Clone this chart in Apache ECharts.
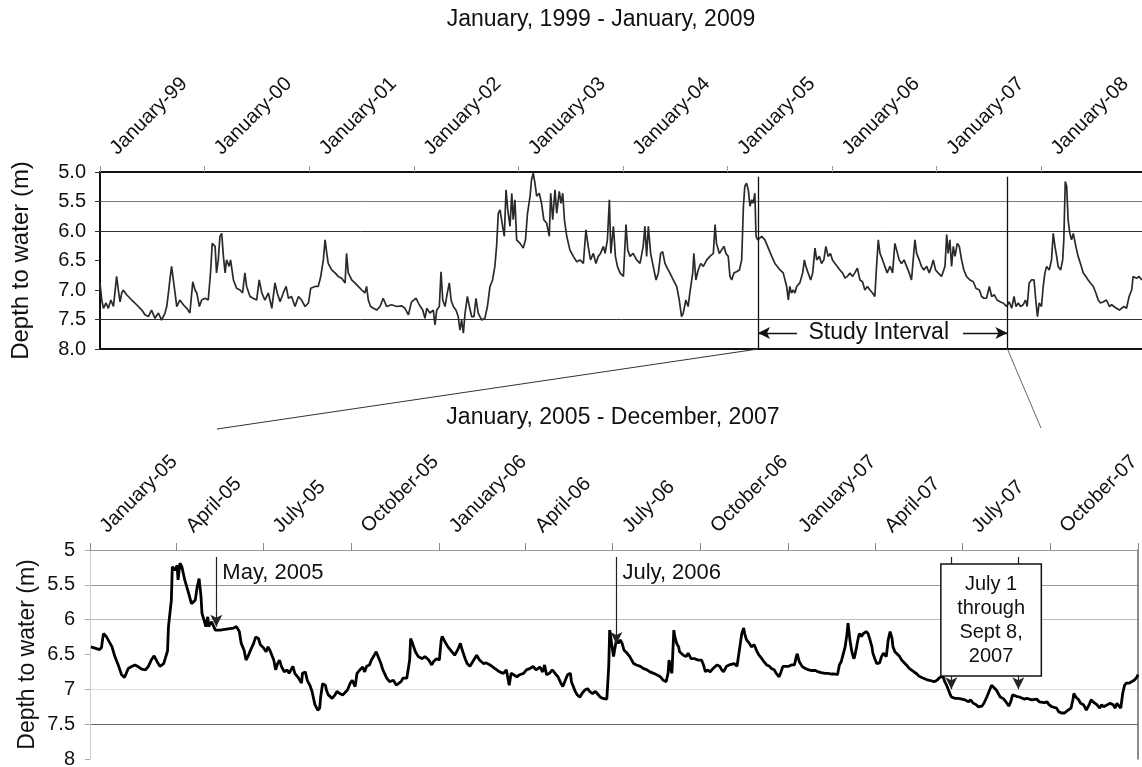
<!DOCTYPE html>
<html>
<head>
<meta charset="utf-8">
<title>Depth to water, 1999 - 2009</title>
<script src="https://cdn.jsdelivr.net/npm/echarts@6/dist/echarts.min.js"></script>
<style>
  html, body { margin: 0; padding: 0; background: #fff; }
  #chart { width: 1142px; height: 767px; }
</style>
</head>
<body>
<div id="chart"></div>
<script>
// ---- Ten-year record (days counted from overviewStart) ----
const overviewStart = '1999-01-01';
const overviewEnd = '2009-01-01';
const overviewDay = [0,6,12,21,29,38,47,52,58,64,70,76,81,93,111,128,146,157,169,180,192,204,215,227,233,239,244,250,256,262,268,279,291,303,314,324,332,338,347,355,367,378,386,392,402,407,413,419,425,431,437,442,451,456,466,477,489,498,506,512,524,535,547,556,565,576,588,600,611,619,629,640,650,658,669,681,693,704,716,728,736,751,762,771,780,786,792,797,809,821,832,844,856,861,867,879,890,902,914,925,931,937,945,955,966,
  978,989,1001,1018,1036,1054,1065,1077,1088,1104,1115,1127,1135,1141,1152,1164,1170,1176,1185,1191,1197,1205,1213,1220,1226,1234,1243,1251,1257,1263,1269,1275,1283,1290,1298,1306,1313,1321,1333,1344,1353,1362,1371,1379,1385,1391,1397,1406,1412,1418,1424,1432,1438,1443,1449,1455,1467,1478,1486,1493,1502,1507,1513,1519,1525,1534,1542,1550,1560,1569,1574,1581,1589,1595,1604,1610,1616,1622,1630,1641,1653,1665,1676,1688,1697,1705,1713,1723,1732,1740,1748,1758,1764,1772,1779,1784,1793,1800,1807,1816,1828,1837,1843,1851,1862,1874,1886,1897,1903,1909,1915,1923,1932,1942,1950,1958,1965,1973,1981,1990,2002,2014,2023,2031,2037,2046,2054,2060,2070,2074,2081,2089,2098,2107,2119,2130,2142,2148,2153,2163,2171,2179,2186,2194,2200,2206,2214,2223,2233,2241,2247,2252,2258,2264,2270,2276,2281,2287,2291,2297,2311,2322,2334,2346,2357,
  2375,2386,2398,2404,2409,2415,2421,2427,2433,2444,2454,2460,2465,2473,2482,2489,2497,2503,2512,2520,2528,2535,2543,2551,2558,2567,2575,2584,2593,2602,2610,2619,2628,2636,2645,2654,2663,2671,2680,2689,2698,2706,2712,2718,2724,2733,2741,2749,2759,2768,2776,2782,2791,2799,2808,2817,2826,2834,2840,2846,2852,2861,2869,2877,2887,2896,2904,2910,2918,2927,2939,2951,2957,2962,2968,2974,2980,2986,2994,3001,3009,3017,3026,3038,3050,3059,3071,3079,3087,3096,3106,3114,3123,3133,3143,3154,3166,3175,3184,3192,3199,3207,3215,3224,3232,3238,3245,3253,3262,3268,3274,3280,3288,3294,3300,3306,3315,3323,3329,3335,3341,3346,3355,3362,3366,3371,3376,3381,3387,3393,3399,3408,3416,3424,3434,3443,3451,3459,3469,3478,3486,3494,3504,3515,3525,3533,3541,3550,3560,3568,3576,3585,3594,3603,3608,3614,3620,3629,3638];
const overviewDepth = [6.88,7.17,7.31,7.22,7.31,7.17,7.28,7.05,6.77,7.00,7.20,7.05,7.00,7.08,7.17,7.25,7.34,7.42,7.45,7.34,7.48,7.39,7.51,7.39,7.28,7.05,6.83,6.60,6.63,7.05,7.28,7.17,7.25,7.31,7.39,6.86,7.00,7.05,7.28,7.17,7.14,7.17,6.71,6.21,6.26,6.71,6.49,6.09,6.04,6.43,6.71,6.49,6.60,6.49,6.83,6.97,7.00,7.05,6.71,6.94,7.11,7.14,7.17,6.83,7.05,7.17,7.05,7.31,6.88,7.05,7.20,7.05,6.94,7.14,7.11,7.28,7.11,7.17,7.28,7.22,6.97,6.94,6.94,6.77,6.49,6.15,6.38,6.55,6.66,6.71,6.77,6.80,6.88,6.38,6.71,6.83,6.88,6.94,7.00,7.05,6.94,7.17,7.28,7.31,7.34,
  7.28,7.14,7.28,7.25,7.28,7.27,7.31,7.42,7.20,7.14,7.25,7.34,7.48,7.31,7.39,7.34,7.59,7.34,7.28,6.69,7.17,7.28,7.05,6.88,7.17,7.28,7.34,7.45,7.68,7.51,7.73,7.39,7.11,7.28,7.45,7.45,7.14,7.39,7.51,7.48,7.28,6.94,6.83,6.60,6.26,5.70,5.64,5.92,6.09,5.30,5.64,5.92,5.36,5.81,5.47,6.15,6.21,6.29,6.15,5.70,5.41,5.13,5.02,5.19,5.41,5.36,5.53,5.81,5.87,6.09,5.36,5.81,5.30,5.70,5.33,5.53,5.36,5.81,6.09,6.32,6.43,6.52,6.49,6.55,5.98,6.26,6.49,6.38,6.55,6.43,6.38,6.26,6.38,6.15,5.47,6.38,5.92,6.43,6.60,6.71,6.77,5.89,6.32,6.43,6.38,6.49,6.55,6.26,5.92,6.43,5.92,6.38,6.60,6.83,6.71,6.38,6.35,6.55,6.63,6.71,6.83,6.94,7.17,7.45,7.39,7.17,7.28,7.05,6.71,6.38,6.83,6.66,6.55,6.60,6.49,6.43,6.38,5.89,6.21,6.38,6.32,6.26,6.38,6.43,6.77,6.83,6.71,6.69,6.66,6.49,5.58,5.24,5.19,5.30,5.58,5.47,5.53,5.36,6.09,6.15,6.09,6.15,6.29,6.43,6.55,
  6.66,6.71,6.94,7.17,6.94,7.05,7.00,7.05,6.94,6.88,6.71,6.49,6.60,6.71,6.83,6.71,6.29,6.49,6.43,6.55,6.49,6.26,6.43,6.38,6.49,6.55,6.60,6.66,6.71,6.80,6.77,6.71,6.77,6.71,6.63,6.83,6.86,7.00,6.94,7.00,7.05,7.11,6.60,6.15,6.38,6.49,6.60,6.71,6.60,6.71,6.21,6.32,6.49,6.55,6.49,6.60,6.71,6.83,6.49,6.15,6.38,6.49,6.60,6.66,6.60,6.71,6.60,6.49,6.66,6.71,6.77,6.60,6.06,6.38,6.15,6.60,6.26,6.43,6.21,6.26,6.49,6.66,6.77,6.83,6.86,6.97,7.00,7.11,7.14,7.14,6.94,7.11,7.08,7.17,7.20,7.22,7.28,7.20,7.31,7.11,7.28,7.22,7.28,7.25,7.17,7.28,6.88,6.83,6.83,7.17,7.45,7.22,7.28,6.94,6.71,6.60,6.66,6.49,6.04,6.26,6.43,6.60,6.66,6.49,6.15,5.16,5.24,5.81,6.04,6.15,6.04,6.26,6.43,6.55,6.71,6.77,6.83,6.88,6.94,7.05,7.17,7.22,7.20,7.17,7.28,7.25,7.28,7.31,7.34,7.31,7.28,7.31,7.11,7.00,6.77,6.74,6.80,6.77,6.83];

// ---- Study interval detail (days counted from studyStart) ----
const studyStart = '2005-01-01';
const studyEnd = '2008-01-01';
const studyDay = [1,10,12,14,17,23,26,30,33,36,38,40,44,47,51,54,58,61,64,67,70,73,77,79,81,82,84,85,86,89,91,92,94,96,99,103,106,110,112,114,116,117,119,121,123,124,127,131,136,141,146,150,153,156,158,161,163,165,168,171,173,176,178,181,184,186,188,190,192,194,196,198,200,203,206,208,212,214,218,221,222,225,227,230,232,235,238,240,241,243,246,247,249,251,253,256,258,261,264,266,269,272,274,277,279,282,285,287,289,292,294,297,299,301,304,
  306,310,313,317,320,322,325,327,331,334,335,337,340,343,347,350,354,357,359,362,365,367,368,371,374,378,381,384,387,389,392,394,397,400,404,407,411,414,418,421,425,428,432,435,438,440,442,446,449,453,456,460,463,466,470,473,475,477,480,483,487,489,492,494,496,499,502,503,505,507,509,512,514,517,520,522,525,528,530,533,536,538,540,542,543,545,547,549,550,552,554,556,558,561,564,566,568,571,575,578,582,585,589,592,596,599,602,604,605,607,608,610,611,613,615,616,618,620,623,625,628,630,632,635,637,639,641,643,645,648,651,653,655,658,660,662,665,668,670,673,676,677,679,681,683,684,686,689,691,694,697,699,702,704,707,710,712,715,717,720,
  722,724,726,730,733,736,738,739,741,744,747,751,754,758,761,764,768,771,775,778,781,783,785,787,789,791,792,794,796,798,799,801,803,804,806,808,810,811,813,815,817,818,820,822,824,825,827,829,832,834,836,838,839,841,843,846,848,850,853,856,858,861,864,866,869,871,874,877,879,882,885,887,890,892,893,895,897,899,900,904,907,911,914,918,920,923,926,928,932,934,937,940,942,944,947,949,951,954,956,958,960,962,964,966,968,971,973,976,979,981,984,986,989,992,994,997,1000,1002,1005,1007,1010,1012,1015,1018,1020,1022,1025,1027,1028,1030,1033,1035,1038,1040,1041,1044,1046,1048,1050,1052,1055,1057,1059,1061,1063,1066,1067,1069,1071,1073,1074,1077,1079,1081,1083,1086,1088,1091,1094,1095];
const studyDepth = [6.39,6.43,6.40,6.20,6.24,6.39,6.53,6.67,6.79,6.83,6.82,6.70,6.67,6.65,6.68,6.71,6.72,6.67,6.58,6.52,6.60,6.67,6.63,6.64,6.45,6.10,6.10,5.72,5.24,5.29,5.22,5.43,5.19,5.24,5.43,5.62,5.77,5.72,5.53,5.41,5.67,5.91,6.00,6.10,5.96,6.10,6.03,6.15,6.15,6.14,6.13,6.12,6.10,6.17,6.34,6.44,6.58,6.53,6.43,6.34,6.25,6.27,6.36,6.40,6.46,6.39,6.44,6.51,6.58,6.72,6.63,6.58,6.67,6.75,6.72,6.77,6.67,6.77,6.84,6.91,6.77,6.75,6.87,6.95,7.03,7.22,7.30,7.27,7.11,6.92,6.94,7.01,7.08,7.06,7.13,7.08,7.03,7.06,7.08,7.06,7.01,6.91,6.87,6.96,6.77,6.72,6.68,6.75,6.67,6.65,6.58,6.51,6.46,6.53,6.63,
  6.72,6.84,6.89,6.87,6.94,6.96,6.89,6.84,6.84,6.58,6.27,6.34,6.46,6.53,6.56,6.53,6.58,6.65,6.60,6.56,6.58,6.29,6.24,6.32,6.39,6.46,6.51,6.44,6.34,6.44,6.56,6.63,6.67,6.60,6.51,6.58,6.63,6.62,6.65,6.68,6.72,6.75,6.77,6.72,6.94,6.77,6.79,6.82,6.79,6.77,6.72,6.70,6.67,6.72,6.68,6.75,6.65,6.79,6.77,6.72,6.79,6.82,6.91,6.96,6.89,6.79,6.77,6.89,6.96,7.03,7.08,7.11,7.06,7.01,6.99,7.03,7.06,7.03,7.06,7.11,7.13,7.15,7.14,6.67,6.15,6.34,6.53,6.53,6.29,6.34,6.29,6.34,6.44,6.48,6.53,6.58,6.63,6.65,6.67,6.70,6.72,6.75,6.77,6.79,6.82,6.87,6.89,6.77,6.58,6.72,6.77,6.15,6.24,6.34,6.39,6.46,6.44,6.51,6.53,6.48,6.56,6.58,6.56,6.58,6.60,6.58,6.65,6.75,6.72,6.75,6.70,6.72,6.65,6.67,6.72,6.75,6.67,6.65,6.67,6.63,6.67,6.58,6.39,6.20,6.12,6.20,6.29,6.34,6.39,6.36,6.46,6.51,6.56,6.60,6.65,6.67,6.70,6.72,6.77,6.82,
  6.75,6.67,6.65,6.67,6.65,6.65,6.53,6.49,6.60,6.67,6.70,6.72,6.73,6.73,6.75,6.76,6.77,6.77,6.78,6.78,6.79,6.65,6.60,6.58,6.39,6.20,6.05,6.29,6.46,6.56,6.53,6.39,6.24,6.20,6.24,6.20,6.22,6.17,6.20,6.29,6.39,6.48,6.56,6.63,6.64,6.62,6.53,6.48,6.53,6.29,6.17,6.27,6.39,6.46,6.48,6.53,6.58,6.60,6.65,6.70,6.72,6.75,6.78,6.81,6.83,6.84,6.86,6.87,6.88,6.89,6.87,6.84,6.81,6.84,6.89,6.94,7.01,7.08,7.11,7.13,7.13,7.14,7.15,7.18,7.15,7.20,7.22,7.25,7.24,7.20,7.11,7.01,6.94,6.96,7.01,7.06,7.11,7.13,7.16,7.20,7.24,7.18,7.08,7.06,7.10,7.11,7.11,7.14,7.13,7.14,7.15,7.16,7.14,7.18,7.20,7.19,7.18,7.22,7.25,7.24,7.27,7.32,7.34,7.34,7.32,7.30,7.27,7.15,7.06,7.11,7.15,7.20,7.22,7.27,7.30,7.22,7.15,7.18,7.20,7.22,7.27,7.22,7.25,7.27,7.22,7.20,7.18,7.22,7.27,7.20,7.22,7.27,7.06,6.94,6.91,6.91,6.89,6.87,6.82,6.79];

// ---- Axis ticks and labels ----
const overviewTicks = ['1999-01-01','2000-01-01','2001-01-01','2002-01-01','2003-01-01','2004-01-01','2005-01-01','2006-01-01','2007-01-01','2008-01-01'];
const overviewTickLabels = ['January-99','January-00','January-01','January-02','January-03','January-04','January-05','January-06','January-07','January-08'];
const studyTicks = ['2005-01-01','2005-04-01','2005-07-01','2005-10-01','2006-01-01','2006-04-01','2006-07-01','2006-10-01','2007-01-01','2007-04-01','2007-07-01','2007-10-01','2008-01-01'];
const studyTickLabels = ['January-05','April-05','July-05','October-05','January-06','April-06','July-06','October-06','January-07','April-07','July-07','October-07',''];

// ---- Annotation dates ----
const studyIntervalStart = '2005-04-17';
const studyIntervalEnd = '2007-09-05';
const studyArrowTails = ['2005-08-31', '2007-04-03'];
const mayArrowDate = '2005-05-13';
const julyArrowDate = '2006-07-05';
const periodArrowDates = ['2007-06-20', '2007-08-29'];
const periodBoxDates = ['2007-06-09', '2007-09-22'];

const FONT = '"Liberation Sans", Arial, Helvetica, sans-serif';

function parseDate(s, addDays) {
  const [y, m, d] = s.split('-').map(Number);
  return new Date(y, m - 1, d + (addDays || 0)).getTime();
}
function labeler(times, labels) {
  return function (v) {
    const i = times.findIndex(t => Math.abs(t - v) < 43200000);
    return i >= 0 ? labels[i] : '';
  };
}

const overviewData = overviewDay.map((d, i) => [parseDate(overviewStart, d), overviewDepth[i]]);
const studyData = studyDay.map((d, i) => [parseDate(studyStart, d), studyDepth[i]]);
const overviewTickTimes = overviewTicks.map(s => parseDate(s));
const studyTickTimes = studyTicks.map(s => parseDate(s));
const studyLabelTimes = studyTickTimes.filter((t, i) => studyTickLabels[i] !== '');

const tStart = parseDate(studyIntervalStart);
const tEnd = parseDate(studyIntervalEnd);

const chart = echarts.init(document.getElementById('chart'), null, { renderer: 'canvas' });

function arrowPair(x0, y0, x1, y1) {
  return [
    { coord: [x0, y0], symbol: 'none' },
    { coord: [x1, y1], symbol: 'arrow', symbolSize: [9, 12] }
  ];
}
function plainPair(x0, y0, x1, y1) {
  return [
    { coord: [x0, y0], symbol: 'none' },
    { coord: [x1, y1], symbol: 'none' }
  ];
}

const xLabelBase = {
  rotate: -45, fontSize: 20, fontFamily: FONT, color: '#111',
  margin: 7, padding: [0, 0, 0, 19]
};

chart.setOption({
  animation: false,
  backgroundColor: '#fff',
  textStyle: { fontFamily: FONT },
  grid: [
    { left: 100, top: 172, right: -4, height: 177, outerBoundsMode: 'none', show: true, borderColor: '#111', borderWidth: 2, backgroundColor: 'transparent' },
    { left: 90, top: 550, right: 4, height: 209, outerBoundsMode: 'none' }
  ],
  xAxis: [
    {
      type: 'value', gridIndex: 0, position: 'top',
      min: parseDate(overviewStart), max: parseDate(overviewEnd),
      axisLine: { show: false },
      axisTick: { show: true, length: 6, lineStyle: { color: '#999' }, customValues: overviewTickTimes },
      axisLabel: Object.assign({}, xLabelBase, { customValues: overviewTickTimes, formatter: labeler(overviewTickTimes, overviewTickLabels) }),
      splitLine: { show: false }
    },
    {
      type: 'value', gridIndex: 1, position: 'top',
      min: parseDate(studyStart), max: parseDate(studyEnd),
      axisLine: { show: true, lineStyle: { color: '#999', width: 1 } },
      axisTick: { show: true, length: 7, lineStyle: { color: '#888' }, customValues: studyTickTimes },
      axisLabel: Object.assign({}, xLabelBase, { customValues: studyLabelTimes, formatter: labeler(studyTickTimes, studyTickLabels) }),
      splitLine: { show: false }
    }
  ],
  yAxis: [
    {
      type: 'value', gridIndex: 0, inverse: true, min: 5, max: 8, interval: 0.5,
      name: 'Depth to water (m)', nameLocation: 'middle', nameGap: 67, nameMoveOverlap: false,
      nameTextStyle: { fontSize: 24, color: '#111', fontFamily: FONT },
      axisLine: { show: true, lineStyle: { color: '#111', width: 1.5 } },
      axisTick: { show: true, length: 5, lineStyle: { color: '#333' } },
      axisLabel: { fontSize: 20, color: '#111', margin: 14, formatter: v => v.toFixed(1) },
      splitLine: { show: true, lineStyle: { width: 1, color: ['#111', '#777', '#333', 'rgba(0,0,0,0)', 'rgba(0,0,0,0)', '#333', '#111'] } }
    },
    {
      type: 'value', gridIndex: 1, inverse: true, min: 5, max: 8, interval: 0.5,
      name: 'Depth to water (m)', nameLocation: 'middle', nameGap: 51, nameMoveOverlap: false,
      nameTextStyle: { fontSize: 23, color: '#111', fontFamily: FONT },
      axisLine: { show: true, lineStyle: { color: '#ccc', width: 1 } },
      axisTick: { show: true, length: 5, lineStyle: { color: '#aaa' } },
      axisLabel: { fontSize: 20, color: '#111', margin: 15 },
      splitLine: { show: true, lineStyle: { width: 1, color: ['#999', '#999', '#bbb', 'rgba(0,0,0,0)', '#ddd', '#666', 'rgba(0,0,0,0)'] } }
    },
    {
      type: 'value', gridIndex: 1, position: 'right', inverse: true, min: 5, max: 8,
      axisLine: { show: true, lineStyle: { color: '#666', width: 1.5 } },
      axisTick: { show: false }, axisLabel: { show: false }, splitLine: { show: false }
    }
  ],
  series: [
    {
      type: 'line', xAxisIndex: 0, yAxisIndex: 0, data: overviewData,
      showSymbol: false, symbol: 'none',
      lineStyle: { color: '#2a2a2a', width: 1.7 },
      markLine: {
        silent: true, animation: false,
        label: { show: false },
        lineStyle: { color: '#111', width: 1.3, type: 'solid' },
        data: [
          plainPair(tStart, 5.08, tStart, 8),
          plainPair(tEnd, 5.08, tEnd, 8),
          arrowPair(parseDate(studyArrowTails[0]), 7.73, tStart, 7.73),
          arrowPair(parseDate(studyArrowTails[1]), 7.73, tEnd, 7.73)
        ]
      }
    },
    {
      type: 'line', xAxisIndex: 1, yAxisIndex: 1, data: studyData,
      showSymbol: false, symbol: 'none',
      lineStyle: { color: '#000', width: 2.8 },
      markLine: {
        silent: true, animation: false,
        label: { show: false },
        lineStyle: { color: '#222', width: 1.2, type: 'solid' },
        data: [
          arrowPair(parseDate(mayArrowDate), 5.1, parseDate(mayArrowDate), 6.1),
          arrowPair(parseDate(julyArrowDate), 5.1, parseDate(julyArrowDate), 6.35),
          arrowPair(parseDate(periodArrowDates[0]), 5.1, parseDate(periodArrowDates[0]), 7.0),
          arrowPair(parseDate(periodArrowDates[1]), 5.1, parseDate(periodArrowDates[1]), 7.0)
        ]
      }
    }
  ]
});

// Titles, connectors and text callouts placed from data coordinates
const toUpper = (t, v) => chart.convertToPixel({ gridIndex: 0 }, [t, v]);
const toLower = (t, v) => chart.convertToPixel({ gridIndex: 1 }, [t, v]);

const pStartBottom = toUpper(tStart, 8);
const pEndBottom = toUpper(tEnd, 8);
const pStudyLabel = toUpper((tStart + tEnd) / 2, 7.73);
const pMay = toLower(parseDate(mayArrowDate), 5.33);
const pJuly = toLower(parseDate(julyArrowDate), 5.33);
const pBoxA = toLower(parseDate(periodBoxDates[0]), 5.2);
const pBoxB = toLower(parseDate(periodBoxDates[1]), 6.81);

function makeText(x, y, str, size, align) {
  return {
    type: 'text', x: x, y: y, z: 20,
    style: { text: str, font: size + 'px ' + FONT, fill: '#111', textAlign: align, textVerticalAlign: 'middle' }
  };
}

chart.setOption({
  graphic: [
    makeText(601, 20, 'January, 1999 - January, 2009', 23, 'center'),
    makeText(613, 418, 'January, 2005 - December, 2007', 23, 'center'),
    makeText(pStudyLabel[0] - 4, pStudyLabel[1], 'Study Interval', 23, 'center'),
    { type: 'line', z: 5, shape: { x1: pStartBottom[0], y1: pStartBottom[1], x2: 217, y2: 429 }, style: { stroke: '#333', lineWidth: 1 } },
    { type: 'line', z: 5, shape: { x1: pEndBottom[0], y1: pEndBottom[1], x2: 1041, y2: 428 }, style: { stroke: '#666', lineWidth: 1 } },
    makeText(pMay[0] + 6, pMay[1], 'May, 2005', 22, 'left'),
    makeText(pJuly[0] + 6, pJuly[1], 'July, 2006', 22, 'left'),
    {
      type: 'rect', z: 30,
      shape: { x: pBoxA[0], y: pBoxA[1], width: pBoxB[0] - pBoxA[0], height: pBoxB[1] - pBoxA[1] },
      style: { fill: '#fff', stroke: '#111', lineWidth: 1.5 }
    },
    {
      type: 'text', z: 31, x: (pBoxA[0] + pBoxB[0]) / 2, y: (pBoxA[1] + pBoxB[1]) / 2,
      style: { text: 'July 1\nthrough\nSept 8,\n2007', font: '20px ' + FONT, lineHeight: 24, fill: '#111', textAlign: 'center', textVerticalAlign: 'middle' }
    }
  ]
});
</script>
</body>
</html>
